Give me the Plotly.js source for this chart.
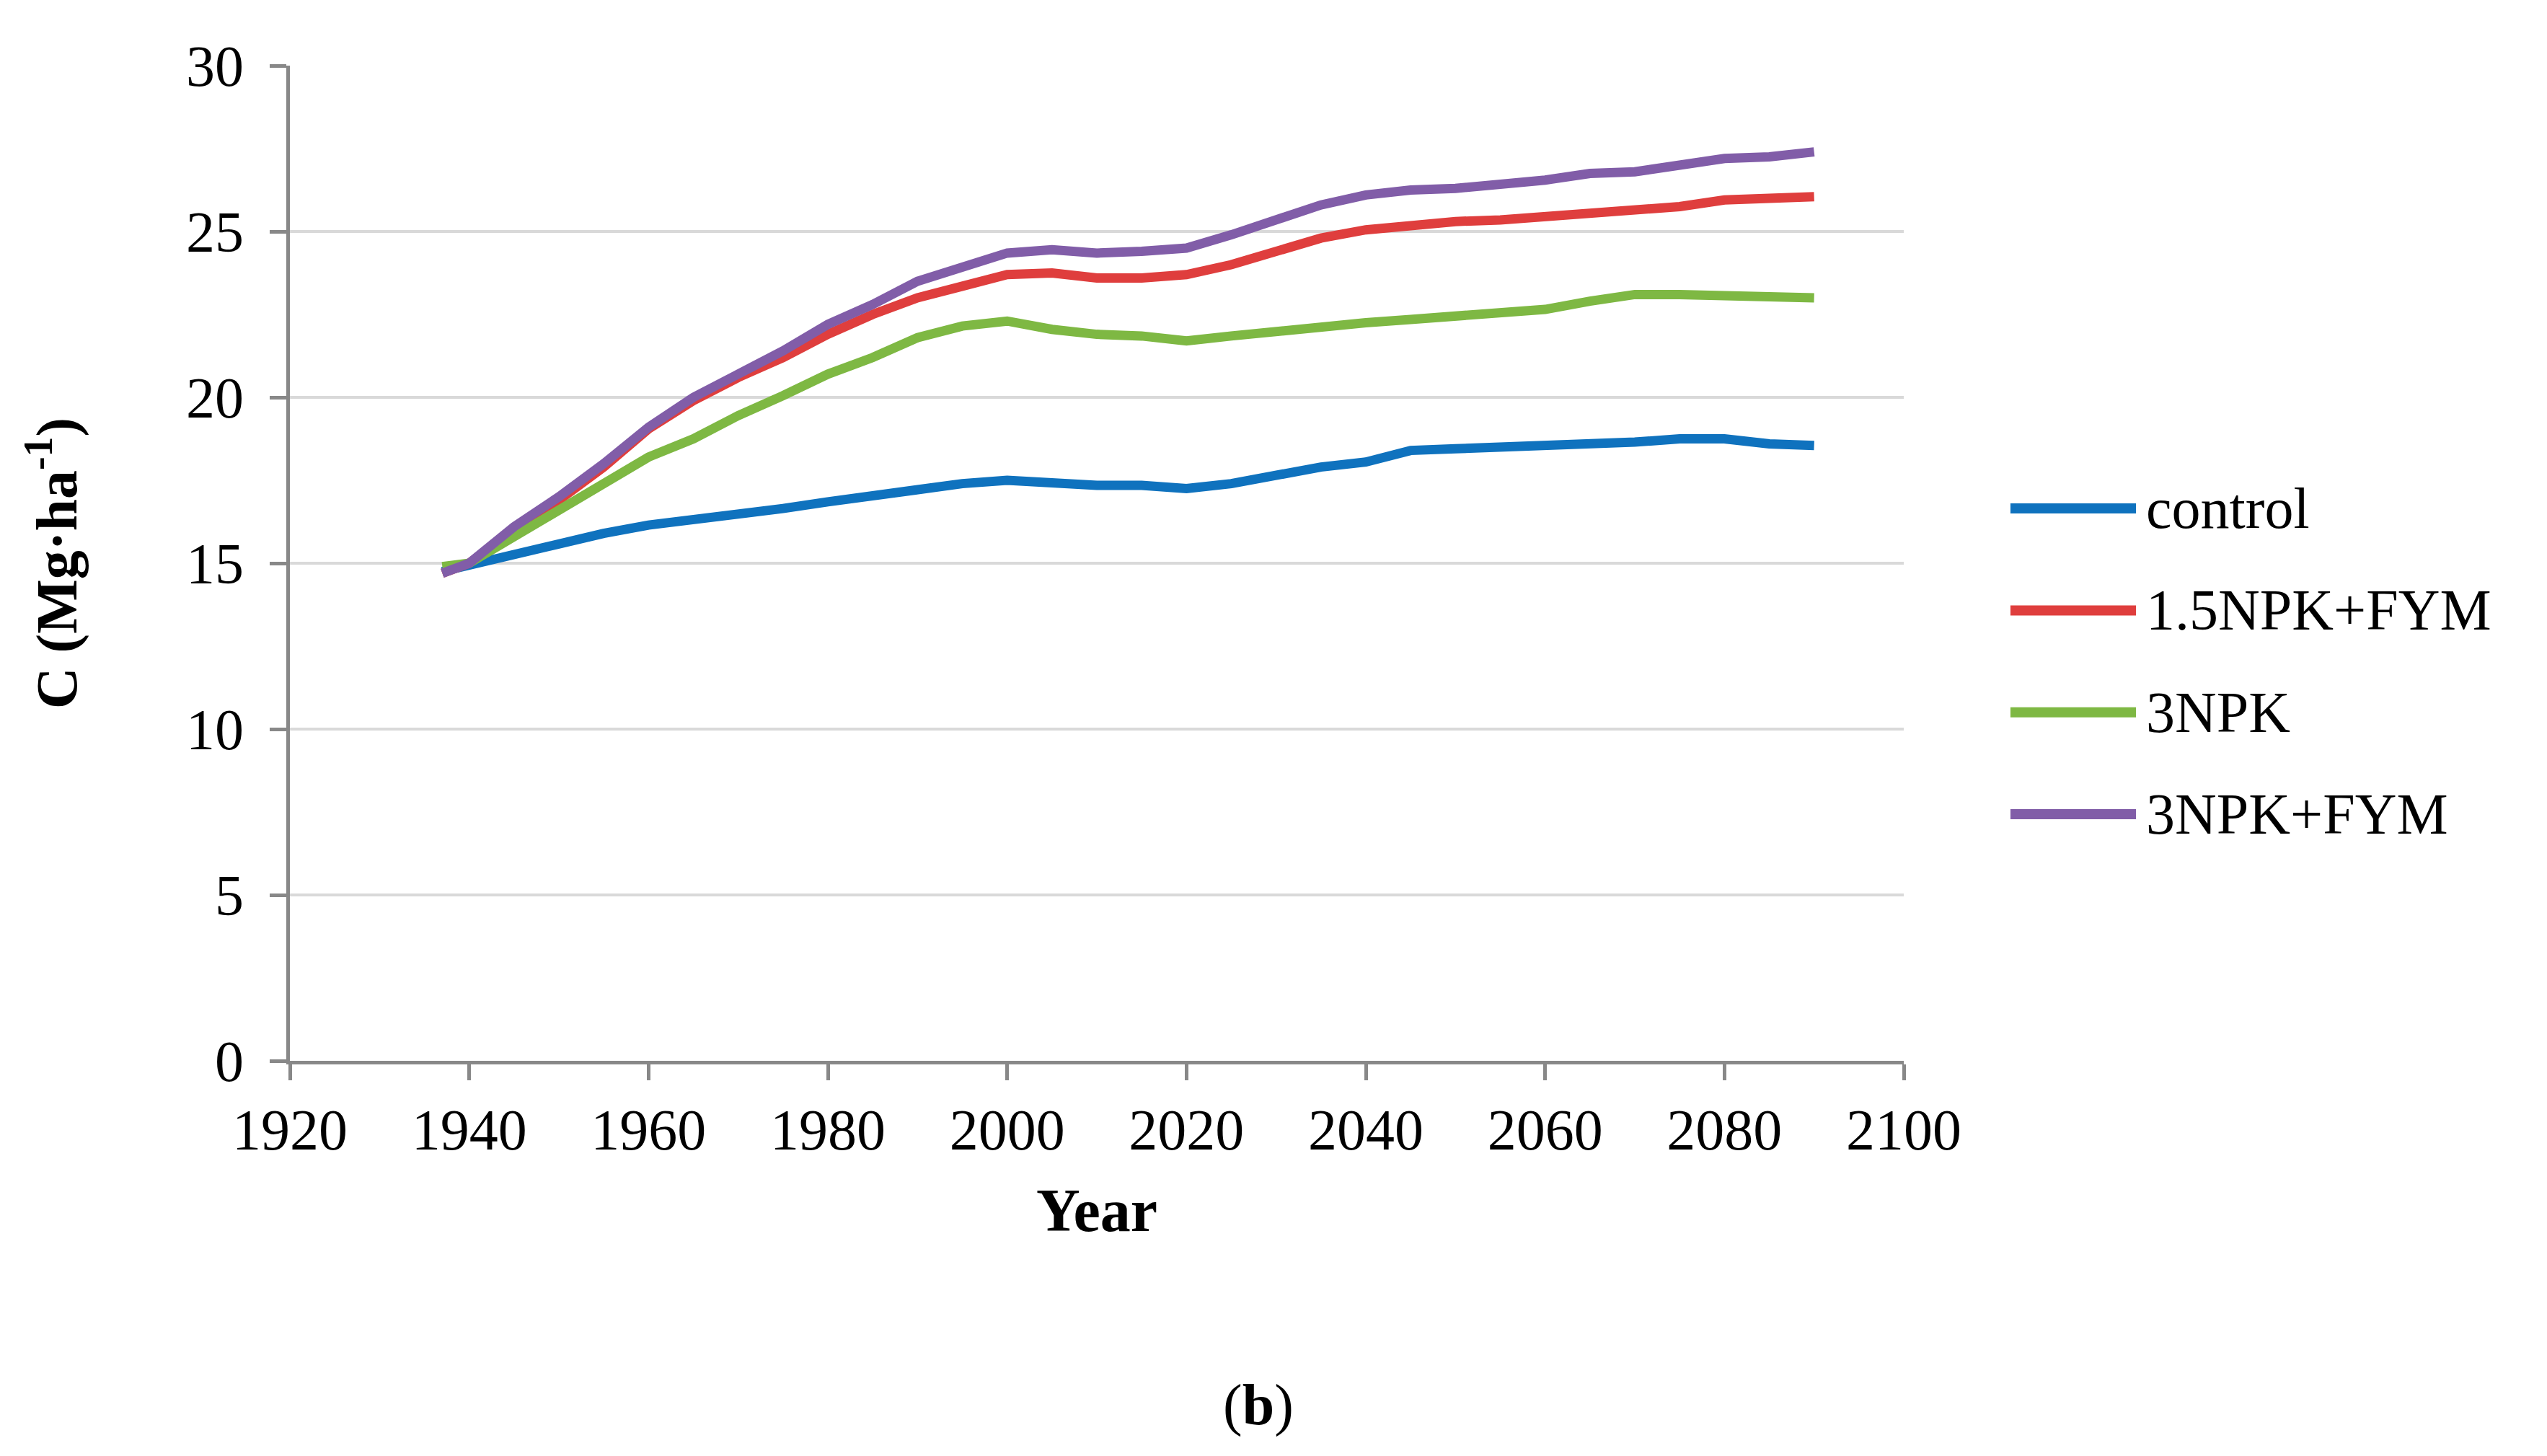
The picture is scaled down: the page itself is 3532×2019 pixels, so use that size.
<!DOCTYPE html>
<html>
<head>
<meta charset="utf-8">
<script src="https://cdn.plot.ly/plotly-3.0.1.min.js"></script>
<style>html,body{margin:0;padding:0;background:#fff;}#chart{width:3532px;height:2019px;}</style>
</head>
<body>
<div id="chart"></div>
<script>
const years = [1937,1940,1945,1950,1955,1960,1965,1970,1975,1980,1985,1990,1995,2000,2005,2010,2015,2020,2025,2030,2035,2040,2045,2050,2055,2060,2065,2070,2075,2080,2085,2090];
const control = [14.75,14.95,15.3,15.6,15.9,16.15,16.3,16.45,16.65,16.85,17.05,17.25,17.4,17.5,17.4,17.35,17.35,17.25,17.4,17.65,17.9,18.05,18.4,18.45,18.5,18.5,18.55,18.65,18.75,18.75,18.6,18.55];
const npk15fym = [14.7,15.0,16.0,16.9,17.9,19.05,19.9,20.6,21.2,21.9,22.5,23.0,23.35,23.7,23.75,23.6,23.6,23.7,24.0,24.4,24.8,25.05,25.2,25.3,25.35,25.45,25.6,25.65,25.75,25.95,26.0,26.05];
const npk3 = [14.9,15.0,15.8,16.6,17.4,18.2,18.75,19.45,20.05,20.7,21.2,21.8,22.15,22.3,22.05,21.9,21.85,21.7,21.85,22.0,22.1,22.25,22.35,22.45,22.55,22.65,22.9,23.1,23.1,23.05,23.0,23.0];
const npk3fym = [14.7,15.0,16.1,17.0,18.0,19.1,20.0,20.7,21.4,22.2,22.8,23.5,23.9,24.35,24.45,24.35,24.4,24.5,24.9,25.35,25.8,26.1,26.25,26.3,26.4,26.55,26.75,26.8,27.0,27.2,27.25,27.4];
const seriesNames = ['control','1.5NPK+FYM','3NPK','3NPK+FYM'];
const seriesData = [control, npk15fym, npk3, npk3fym];
const seriesColors = ['#0F72BE','#DF3E3D','#7EB843','#815DA8'];
const xTicks = [1920,1940,1960,1980,2000,2020,2040,2060,2080,2100];
const yTicks = [0,5,10,15,20,25,30];

const FONT = '"Liberation Serif", "Times New Roman", serif';
const traces = seriesNames.map((n, i) => ({
  x: years, y: seriesData[i], name: n, type: 'scatter', mode: 'lines',
  line: {color: seriesColors[i], width: 13, shape: 'linear'}, showlegend: false
}));

// manual legend (long swatches like the original)
const legX0 = 1.0661, legX1 = 1.1439, legTextX = 1.1493, legTop = 0.555, legStep = 0.1024;
const shapes = [], annotations = [];
seriesNames.forEach((n, i) => {
  const yy = legTop - i * legStep;
  shapes.push({type: 'line', xref: 'paper', yref: 'paper', x0: legX0, x1: legX1, y0: yy, y1: yy,
    line: {color: seriesColors[i], width: 14}});
  annotations.push({xref: 'paper', yref: 'paper', x: legTextX, y: yy, xanchor: 'left', yanchor: 'middle',
    text: n, showarrow: false, font: {family: FONT, size: 80, color: '#000'}});
});
annotations.push({xref: 'paper', yref: 'paper', x: 0.6, y: -0.346, xanchor: 'center', yanchor: 'middle',
  text: '(<b>b</b>)', showarrow: false, font: {family: FONT, size: 80, color: '#000'}});

const layout = {
  width: 3532, height: 2019,
  margin: {l: 402, r: 892, t: 91, b: 548},
  paper_bgcolor: '#fff', plot_bgcolor: '#fff',
  font: {family: FONT, color: '#000', size: 80},
  xaxis: {
    range: [1920, 2100], tickvals: xTicks, ticktext: xTicks.map(String),
    showgrid: false, zeroline: false, showline: true, linecolor: '#888', linewidth: 5,
    ticks: 'outside', ticklen: 22, tickwidth: 5, tickcolor: '#888',
    tickfont: {family: FONT, size: 80, color: '#000'},
    title: {text: '<b>Year</b>', font: {family: FONT, size: 84, color: '#000'}, standoff: 40}
  },
  yaxis: {
    range: [0, 30], tickvals: yTicks, ticktext: yTicks.map(v => v + '\u00a0'),
    showgrid: true, gridcolor: '#D9D9D9', gridwidth: 4, zeroline: false,
    showline: true, linecolor: '#888', linewidth: 5,
    ticks: 'outside', ticklen: 23, tickwidth: 5, tickcolor: '#888',
    tickfont: {family: FONT, size: 80, color: '#000'},
    title: {text: '<b>C (Mg·ha<sup>-1</sup>)</b>', font: {family: FONT, size: 80, color: '#000'}, standoff: 127}
  },
  shapes: shapes, annotations: annotations, showlegend: false
};
Plotly.newPlot('chart', traces, layout, {staticPlot: true, displayModeBar: false});
</script>
</body>
</html>
